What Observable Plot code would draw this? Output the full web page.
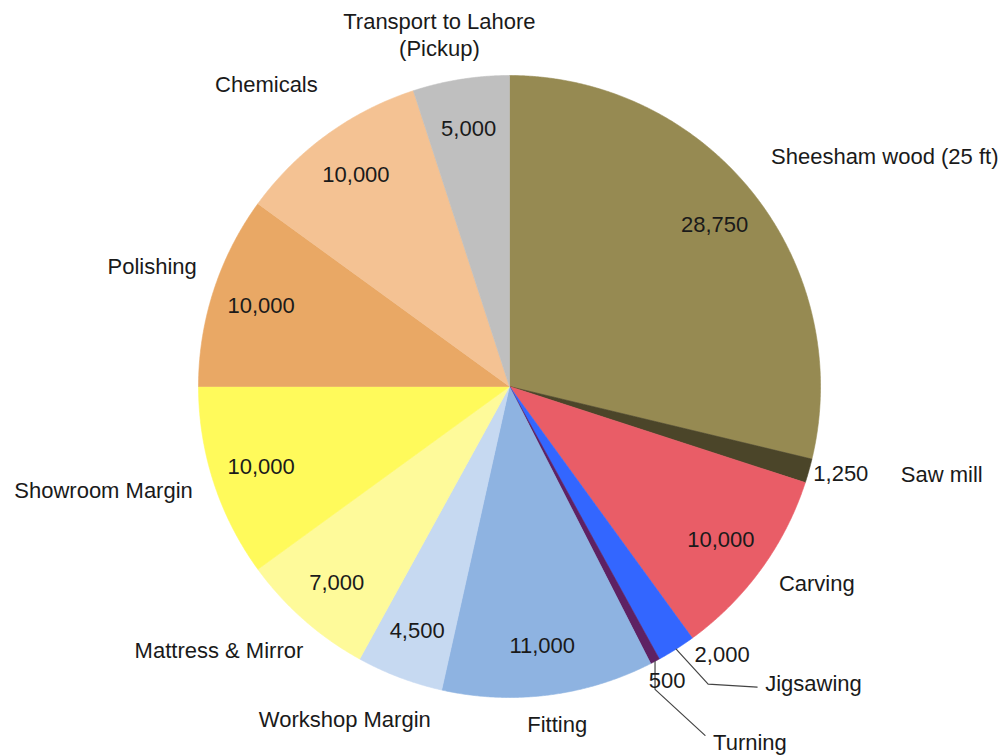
<!DOCTYPE html>
<html><head><meta charset="utf-8">
<script src="https://cdn.jsdelivr.net/npm/d3@7"></script>
<script src="https://cdn.jsdelivr.net/npm/@observablehq/plot@0.6"></script>
<style>body{margin:0;background:#fff} #chart{width:1006px;height:756px}</style>
</head><body><div id="chart"></div>
<script>
// ---- data ----
const categories = ["Sheesham wood (25 ft)", "Saw mill", "Carving", "Jigsawing", "Turning", "Fitting",
  "Workshop Margin", "Mattress & Mirror", "Showroom Margin", "Polishing", "Chemicals", "Transport to Lahore\n(Pickup)"];
const values = [28750, 1250, 10000, 2000, 500, 11000, 4500, 7000, 10000, 10000, 10000, 5000];
const palette = ["#968a52", "#4b4529", "#e95d67", "#3366ff", "#5e2163", "#8eb3e1",
  "#c6d9f1", "#fefa9a", "#fffa5b", "#e9a865", "#f4c293", "#bfbfbf"];

// ---- layout ----
const W = 1006, H = 756, CX = 509, CY = 386, R = 311;
const FONT = "Liberation Sans, Arial, Helvetica, sans-serif";
const FS = 22;
// label nudges for thin slices, relative to the slice's outer-edge midpoint (px)
const smallLabelLayout = {
  "Saw mill":  {value: [32, 3],  leader: null,                 name: [92, 3]},
  "Jigsawing": {value: [46, 6],  leader: [[32, 35], [81, 38]], name: [89, 33]},
  "Turning":   {value: [12, 20], leader: [[0, 28], [50, 74]],  name: [58, 80]}
};
// small nudges (px) for outside category labels of larger slices
const nameNudge = {
  "Sheesham wood (25 ft)": [0, -16], "Carving": [0, -10], "Fitting": [6, -4],
  "Workshop Margin": [-47, 10], "Mattress & Mirror": [14, 3], "Polishing": [4, -18],
  "Chemicals": [4, -25], "Transport to Lahore\n(Pickup)": [-18, -2]
};

const fmt = d3.format(",");
const arcs = d3.pie().sort(null).value(d => d)(values);
const polar = (r, a) => [r * Math.sin(a), -r * Math.cos(a)];

const slicePts = [];
const valueLabels = [];
const nameLabels = [];
const leaders = [];

arcs.forEach((a, i) => {
  const name = categories[i];
  const n = Math.max(2, Math.ceil((a.endAngle - a.startAngle) / (Math.PI / 720)));
  slicePts.push({name, x: 0, y: 0});
  for (let k = 0; k <= n; k++) {
    const ang = a.startAngle + (a.endAngle - a.startAngle) * k / n;
    const [x, y] = polar(R, ang);
    slicePts.push({name, x, y});
  }
  slicePts.push({name, x: 0, y: 0});

  const mid = (a.startAngle + a.endAngle) / 2;
  const lay = smallLabelLayout[name];
  if (lay) {
    const [ex, ey] = polar(R, mid);
    valueLabels.push({text: fmt(values[i]), x: ex + lay.value[0], y: ey + lay.value[1]});
    nameLabels.push({text: name, x: ex + lay.name[0], y: ey + lay.name[1], ta: "start", la: "middle"});
    if (lay.leader) {
      leaders.push({id: name, x: ex, y: ey});
      lay.leader.forEach(([dx, dy]) => leaders.push({id: name, x: ex + dx, y: ey + dy}));
    }
  } else {
    const [vx, vy] = polar(R * 0.84, mid);
    valueLabels.push({text: fmt(values[i]), x: vx, y: vy});
    const [nx, ny] = polar(R + 22, mid);
    const [ddx, ddy] = nameNudge[name] || [0, 0];
    const s = Math.sin(mid), c = Math.cos(mid);
    const ta = s > 0.4 ? "start" : s < -0.4 ? "end" : "middle";
    const la = c > 0.35 ? "bottom" : c < -0.35 ? "top" : "middle";
    nameLabels.push({text: name, x: nx + ddx, y: ny + ddy, ta, la});
  }
});

const groups = d3.groups(nameLabels, d => d.ta + "|" + d.la);
const nameMarks = groups.map(([key, rows]) => {
  const [ta, la] = key.split("|");
  return Plot.text(rows, {x: "x", y: "y", text: "text", textAnchor: ta, lineAnchor: la,
    fontSize: FS, fontFamily: FONT, fill: "#1a1a1a", lineHeight: 1.2});
});

const chart = Plot.plot({
  width: W, height: H,
  margin: 0,
  x: {domain: [-CX, W - CX], range: [0, W], axis: null},
  y: {domain: [-CY, H - CY], range: [0, H], axis: null},
  color: {domain: categories, range: palette},
  marks: [
    Plot.line(slicePts, {x: "x", y: "y", z: "name", fill: "name", stroke: "name", strokeWidth: 0.6, curve: "linear"}),
    Plot.line(leaders, {x: "x", y: "y", z: "id", stroke: "#444", strokeWidth: 1.2}),
    Plot.text(valueLabels, {x: "x", y: "y", text: "text", fontSize: FS, fontFamily: FONT, fill: "#1a1a1a"}),
    ...nameMarks
  ]
});
document.getElementById("chart").appendChild(chart);
</script>
</body></html>
